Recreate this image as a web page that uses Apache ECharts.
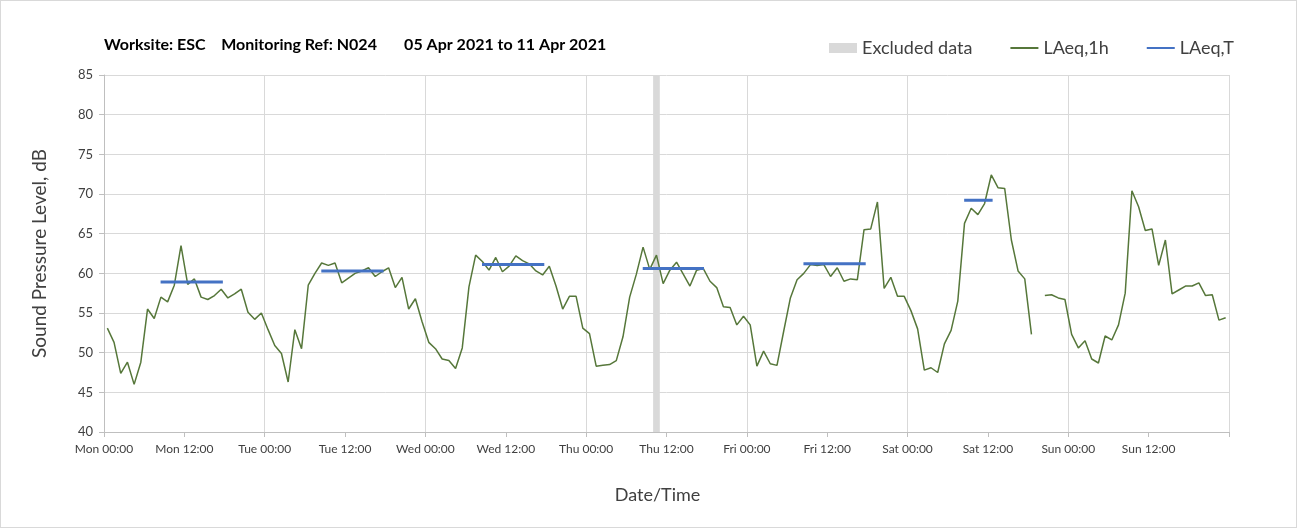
<!DOCTYPE html>
<html>
<head>
<meta charset="utf-8">
<script src="https://cdn.jsdelivr.net/npm/echarts@6/dist/echarts.min.js"></script>
<style>
  html, body { margin: 0; padding: 0; background: #fff; }
  #chart { width: 1297px; height: 528px; box-sizing: border-box; border: 1px solid #d9d9d9; }
</style>
</head>
<body>
<div id="chart"></div>
<script>
// hourly LAeq,1h values, Mon 00:00 .. Sun 23:00 (null = no data)
let hourly = [
    53.1, 51.3, 47.4, 48.8, 46.0, 48.8, 55.5, 54.3, 57.0, 56.4, 58.5, 63.5, 58.6, 59.3, 57.0, 56.7, 57.2, 58.0, 56.9, 57.4, 58.0, 55.1, 54.2, 55.0,
    52.9, 50.9, 49.9, 46.3, 52.9, 50.5, 58.5, 60.0, 61.3, 61.0, 61.3, 58.8, 59.4, 60.0, 60.3, 60.7, 59.6, 60.2, 60.7, 58.2, 59.5, 55.5, 56.8, 53.9,
    51.3, 50.5, 49.2, 49.0, 48.0, 50.6, 58.3, 62.3, 61.5, 60.4, 62.0, 60.2, 60.9, 62.2, 61.6, 61.2, 60.3, 59.8, 60.9, 58.4, 55.5, 57.1, 57.1, 53.1,
    52.4, 48.3, 48.4, 48.5, 49.0, 52.0, 57.0, 59.9, 63.3, 60.5, 62.3, 58.7, 60.4, 61.4, 59.9, 58.4, 60.4, 60.6, 59.0, 58.2, 55.8, 55.7, 53.5, 54.6,
    53.5, 48.3, 50.2, 48.6, 48.4, 52.7, 56.9, 59.2, 60.0, 61.1, 61.0, 61.1, 59.6, 60.7, 59.0, 59.3, 59.2, 65.5, 65.6, 69.0, 58.1, 59.5, 57.1, 57.1,
    55.3, 53.0, 47.8, 48.1, 47.5, 51.1, 52.8, 56.5, 66.3, 68.2, 67.4, 68.8, 72.4, 70.8, 70.7, 64.2, 60.3, 59.3, 52.3, null, 57.2, 57.3, 56.9, 56.7,
    52.3, 50.6, 51.5, 49.2, 48.7, 52.1, 51.6, 53.5, 57.5, 70.4, 68.4, 65.4, 65.6, 61.0, 64.2, 57.4, 57.9, 58.4, 58.4, 58.8, 57.2, 57.3, 54.1, 54.4
];

// LAeq,T daytime periods (hours from Mon 00:00)
let periodStart = [8.45, 32.45, 56.45, 80.45, 104.45, 128.45];
let periodEnd = [17.75, 41.75, 65.75, 89.6, 113.75, 132.7];
let periodValue = [58.9, 60.3, 61.1, 60.6, 61.2, 69.2];

// excluded hour
let excludedStart = [82];
let excludedEnd = [83];

let tickLabels = ['Mon 00:00', 'Mon 12:00', 'Tue 00:00', 'Tue 12:00', 'Wed 00:00', 'Wed 12:00', 'Thu 00:00',
    'Thu 12:00', 'Fri 00:00', 'Fri 12:00', 'Sat 00:00', 'Sat 12:00', 'Sun 00:00', 'Sun 12:00'];

let font = 'Lato';
let textCol = '#404040';

let lineData = hourly.map(function (v, i) {
    return [i + 0.5, v];
});

let tData = [];
for (let i = 0; i < periodStart.length; i++) {
    tData.push([periodStart[i], periodValue[i]]);
    tData.push([periodEnd[i], periodValue[i]]);
    tData.push([periodEnd[i], null]);
}

let areas = excludedStart.map(function (s, i) {
    return [{ xAxis: s }, { xAxis: excludedEnd[i] }];
});

let myChart = echarts.init(document.getElementById('chart'));
myChart.setOption({
    animation: false,
    title: {
        text: 'Worksite: ESC    Monitoring Ref: N024       05 Apr 2021 to 11 Apr 2021',
        left: 98,
        top: 31,
        textStyle: { fontFamily: font, fontSize: 16, fontWeight: 'bold', color: '#000' }
    },
    legend: {
        left: 823,
        top: 33,
        itemWidth: 28,
        itemHeight: 10,
        itemGap: 37,
        textStyle: { fontFamily: font, fontSize: 18, color: textCol },
        data: [
            { name: 'Excluded data', icon: 'rect' },
            { name: 'LAeq,1h', itemStyle: { opacity: 0 } },
            { name: 'LAeq,T', itemStyle: { opacity: 0 } }
        ]
    },
    grid: {
        left: 103,
        right: 67,
        top: 74,
        bottom: 95
    },
    xAxis: {
        type: 'value',
        min: 0,
        max: 168,
        interval: 12,
        name: 'Date/Time',
        nameLocation: 'middle',
        nameGap: 54,
        nameTextStyle: { fontFamily: font, fontSize: 18, color: textCol, padding: [0, 18, 0, 0] },
        axisLine: { lineStyle: { color: '#bfbfbf' } },
        axisTick: { show: true, length: 5, lineStyle: { color: '#bfbfbf' } },
        axisLabel: {
            fontFamily: font,
            fontSize: 12,
            color: textCol,
            margin: 11,
            formatter: function (v) {
                return tickLabels[v / 12] || '';
            }
        },
        splitLine: {
            show: true,
            lineStyle: { color: ['#d9d9d9', 'rgba(0,0,0,0)'], width: 1 }
        }
    },
    yAxis: {
        type: 'value',
        min: 40,
        max: 85,
        interval: 5,
        name: 'Sound Pressure Level, dB',
        nameLocation: 'middle',
        nameGap: 55,
        nameTextStyle: { fontFamily: font, fontSize: 19, color: textCol },
        axisLine: { show: true, lineStyle: { color: '#bfbfbf' } },
        axisTick: { show: true, length: 5, lineStyle: { color: '#bfbfbf' } },
        axisLabel: { fontFamily: font, fontSize: 13, color: textCol, margin: 11 },
        splitLine: { lineStyle: { color: '#d9d9d9', width: 1 } }
    },
    series: [
        {
            name: 'Excluded data',
            type: 'line',
            z: 1,
            color: '#d9d9d9',
            data: [],
            markArea: {
                silent: true,
                itemStyle: { color: '#d9d9d9', opacity: 1 },
                data: areas
            }
        },
        {
            name: 'LAeq,1h',
            type: 'line',
            z: 3,
            color: '#56773a',
            symbol: 'none',
            lineStyle: { width: 1.5 },
            data: lineData
        },
        {
            name: 'LAeq,T',
            type: 'line',
            z: 4,
            color: '#4472c4',
            symbol: 'none',
            lineStyle: { width: 3 },
            data: tData
        }
    ]
});
</script>
</body>
</html>
